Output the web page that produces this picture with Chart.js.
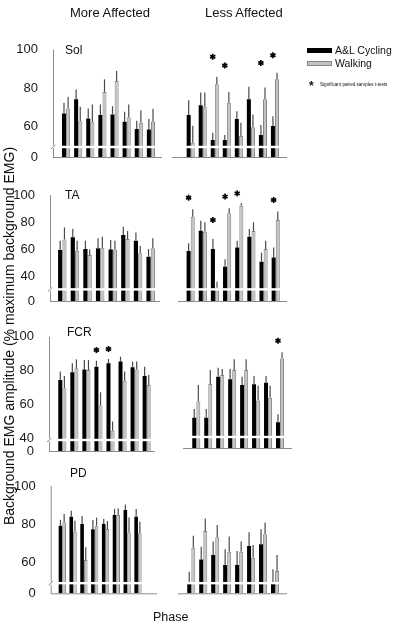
<!DOCTYPE html>
<html>
<head>
<meta charset="utf-8">
<script src="https://cdn.jsdelivr.net/npm/chart.js@4.4.1/dist/chart.umd.min.js"></script>
<style>
body { margin: 0; background: #fff; font-family: Arial, "Liberation Sans", sans-serif; }
#wrap { position: relative; width: 397px; height: 626px; overflow: hidden; }
#wrap canvas { position: absolute; left: 0; top: 0; }
.t { position: absolute; color: #111; white-space: nowrap; line-height: 1; }
</style>
</head>
<body>
<div id="wrap">
  <div class="t" style="left:70px; top:5.5px; font-size:13px">More Affected</div>
  <div class="t" style="left:205px; top:5.5px; font-size:13px">Less Affected</div>
  <div class="t" style="left:65px; top:44px; font-size:12px">Sol</div>
  <div class="t" style="left:65px; top:189px; font-size:12px">TA</div>
  <div class="t" style="left:67px; top:326px; font-size:12px">FCR</div>
  <div class="t" style="left:70px; top:467px; font-size:12px">PD</div>
  <div class="t" style="left:153px; top:611px; font-size:12.5px">Phase</div>
  <div class="t" style="left:-191.5px; top:329px; width:400px; text-align:center; font-size:14px; transform:rotate(-90deg)">Background EMG amplitude (% maximum background EMG)</div>

  <div style="position:absolute; left:307px; top:48px; width:25px; height:4.5px; background:#000"></div>
  <div class="t" style="left:335px; top:44.7px; font-size:10.5px">A&amp;L Cycling</div>
  <div style="position:absolute; left:307px; top:60.5px; width:23px; height:3px; background:#c2c2c2; border:1px solid #858585"></div>
  <div class="t" style="left:335px; top:57.5px; font-size:10.5px">Walking</div>
  <div class="t" style="left:309px; top:80px; font-size:12px; font-weight:bold">*</div>
  <div class="t" style="left:320px; top:82.7px; font-size:4.6px">Significant paired samples t-tests</div>
</div>

<script>
// phases (x categories, no tick labels shown)
const phases = ['1', '2', '3', '4', '5', '6', '7', '8'];

// Sol
const solMoreCyc = [66.8, 74.2, 64.2, 66.0, 66.3, 62.5, 58.7, 58.5];
const solMoreCycSd = [5.5, 5.1, 5.2, 5.5, 4.3, 5.2, 4.3, 5.4];
const solMoreWalk = [69.4, 62.8, 62.5, 78.0, 83.6, 64.8, 62.0, 62.5];
const solMoreWalkSd = [6.0, 7.5, 9.0, 6.5, 5.2, 6.7, 6.5, 6.7];
const solMoreStars = [null, null, null, null, null, null, null, null];

const solLessCyc = [66.0, 71.1, 53.0, 53.0, 63.9, 74.2, 55.6, 60.3];
const solLessCycSd = [7.7, 6.6, 3.8, 2.6, 4.1, 6.4, 5.2, 5.1];
const solLessWalk = [51.6, 70.3, 81.9, 72.3, 55.1, 59.6, 74.2, 84.6];
const solLessWalkSd = [8.8, 7.4, 3.9, 5.7, 6.9, 6.7, 6.1, 3.3];
const solLessStars = [null, null, 96.2, 91.7, null, null, 93.0, 97.0];

// TA
const taMoreCyc = [59.3, 68.7, 60.0, 60.5, 59.7, 70.4, 66.1, 54.3];
const taMoreCycSd = [6.8, 6.3, 6.1, 7.4, 7.0, 6.1, 6.2, 5.7];
const taMoreWalk = [67.0, 58.8, 55.6, 61.0, 59.7, 67.4, 56.8, 60.5];
const taMoreWalkSd = [9.0, 7.3, 4.1, 8.1, 6.4, 5.9, 5.4, 7.4];
const taMoreStars = [null, null, null, null, null, null, null, null];

const taLessCyc = [58.5, 73.6, 60.0, 46.9, 61.2, 69.1, 50.6, 53.8];
const taLessCycSd = [5.7, 7.4, 7.4, 5.5, 4.9, 5.7, 6.7, 7.4];
const taLessWalk = [83.9, 72.8, 31.5, 86.4, 92.1, 73.3, 60.0, 81.5];
const taLessWalkSd = [5.5, 7.0, 4.3, 3.7, 1.7, 6.5, 6.1, 6.2];
const taLessStars = [98.0, null, 81.5, 98.8, 101.2, null, null, 96.3];

// FCR
const fcrMoreCyc = [74.4, 79.0, 80.7, 82.3, 84.3, 85.3, 81.9, 76.8];
const fcrMoreCycSd = [5.0, 5.3, 5.5, 3.5, 2.5, 2.9, 3.4, 5.5];
const fcrMoreWalk = [69.5, 81.3, 80.3, 59.3, 44.5, 74.0, 80.7, 71.5];
const fcrMoreWalkSd = [7.3, 5.3, 5.9, 7.9, 5.4, 5.4, 4.6, 5.9];
const fcrMoreStars = [null, null, null, 92.1, 92.7, null, null, null];

const fcrLessCyc = [50.4, 50.4, 74.6, 73.1, 69.7, 70.1, 71.1, 47.7];
const fcrLessCycSd = [5.2, 5.2, 5.3, 6.1, 4.9, 4.9, 3.9, 4.7];
const fcrLessWalk = [59.9, 70.3, 75.6, 78.6, 78.6, 60.5, 62.2, 85.4];
const fcrLessWalkSd = [9.8, 8.3, 3.6, 6.3, 6.3, 8.8, 7.1, 3.6];
const fcrLessStars = [null, null, null, null, null, null, null, 95.9];

// PD
const pdMoreCyc = [79.3, 84.0, 80.2, 77.4, 80.2, 84.9, 87.5, 84.0];
const pdMoreCycSd = [3.0, 3.1, 4.1, 4.9, 2.6, 3.1, 2.9, 4.0];
const pdMoreWalk = [80.9, 76.2, 61.4, 79.3, 77.6, 84.9, 75.7, 75.3];
const pdMoreWalkSd = [4.5, 5.7, 6.6, 4.2, 4.1, 3.4, 7.8, 6.1];
const pdMoreStars = [null, null, null, null, null, null, null, null];

const pdLessCyc = [49.2, 61.7, 64.0, 58.8, 58.8, 68.7, 69.6, 49.2];
const pdLessCycSd = [6.1, 6.6, 7.0, 8.2, 7.3, 7.1, 7.8, 7.3];
const pdLessWalk = [67.8, 76.5, 73.2, 65.7, 65.7, 62.6, 74.8, 55.7];
const pdLessWalkSd = [6.3, 6.6, 6.5, 7.9, 5.3, 6.6, 6.2, 8.3];
const pdLessStars = [null, null, null, null, null, null, null, null];

// y ticks per muscle (bottom tick of each broken axis is labelled 0)
const solTicks = [60, 80, 100];
const taTicks = [40, 60, 80, 100];
const fcrTicks = [40, 60, 80, 100];
const pdTicks = [60, 80, 100];

const W = 397, H = 626;

function drawStar(ctx, x, y, r) {
    for (let k = 0; k < 3; k++) {
        const a = Math.PI / 2 + k * Math.PI / 3;
        ctx.beginPath();
        ctx.moveTo(x - r * Math.cos(a), y - r * Math.sin(a));
        ctx.lineTo(x + r * Math.cos(a), y + r * Math.sin(a));
        ctx.stroke();
    }
}

// error bars, axis break, axis lines and significance stars
const panelDeco = {
    id: 'panelDeco',
    afterDatasetsDraw(chart, args, o) {
        const ctx = chart.ctx;
        const y = chart.scales.y;
        ctx.save();

        ctx.strokeStyle = '#4a4a4a';
        ctx.lineWidth = 1.2;
        [o.cycSd, o.walkSd].forEach((sd, i) => {
            const vals = chart.data.datasets[i].data;
            chart.getDatasetMeta(i).data.forEach((bar, j) => {
                ctx.beginPath();
                ctx.moveTo(bar.x, bar.y);
                ctx.lineTo(bar.x, y.getPixelForValue(vals[j] + sd[j]));
                ctx.stroke();
            });
        });

        const by = y.getPixelForValue(o.brk);
        const bottom = y.getPixelForValue(y.min);
        ctx.fillStyle = '#fff';
        ctx.fillRect(o.axisL - 3, by - 1.2, o.axisR - o.axisL + 3, 2.4);

        ctx.strokeStyle = '#8c8c8c';
        ctx.lineWidth = 1;
        ctx.beginPath();
        ctx.moveTo(o.axisL, bottom + 0.5);
        ctx.lineTo(o.axisR, bottom + 0.5);
        ctx.stroke();
        if (o.yLine) {
            const top = y.getPixelForValue(100);
            ctx.beginPath();
            ctx.moveTo(o.axisL + 0.5, top);
            ctx.lineTo(o.axisL + 0.5, by - 1.5);
            ctx.moveTo(o.axisL + 0.5, by + 1.5);
            ctx.lineTo(o.axisL + 0.5, bottom);
            ctx.moveTo(o.axisL - 2, by + 2);
            ctx.lineTo(o.axisL + 2.5, by - 2);
            ctx.stroke();
        }

        ctx.strokeStyle = '#000';
        ctx.lineWidth = 1.7;
        const cycBars = chart.getDatasetMeta(0).data;
        o.stars.forEach((s, j) => {
            if (s !== null) drawStar(ctx, cycBars[j].x, y.getPixelForValue(s), 3);
        });
        ctx.restore();
    }
};

function makePanel(cyc, cycSd, walk, walkSd, stars, ticks, g) {
    const canvas = document.createElement('canvas');
    canvas.width = W;
    canvas.height = H;
    document.getElementById('wrap').prepend(canvas);

    new Chart(canvas.getContext('2d'), {
        type: 'bar',
        data: {
            labels: phases,
            datasets: [{
                label: 'A&L Cycling',
                data: cyc,
                backgroundColor: '#000',
                borderWidth: 0,
                categoryPercentage: 0.68,
                barPercentage: 0.98
            }, {
                label: 'Walking',
                data: walk,
                backgroundColor: '#c2c2c2',
                borderColor: '#858585',
                borderWidth: 1,
                categoryPercentage: 0.68,
                barPercentage: 0.98
            }]
        },
        options: {
            responsive: false,
            animation: false,
            devicePixelRatio: 1,
            layout: {
                padding: {
                    left: g.yLine ? 0 : g.left,
                    right: W - g.right,
                    top: g.top,
                    bottom: H - g.bottom
                }
            },
            plugins: {
                legend: { display: false },
                tooltip: { enabled: false },
                panelDeco: {
                    cycSd: cycSd, walkSd: walkSd, stars: stars, brk: g.brk,
                    axisL: g.axisL, axisR: g.axisR, yLine: g.yLine
                }
            },
            scales: {
                x: { display: false, offset: true },
                y: {
                    display: g.yLine,
                    min: g.min,
                    max: 100,
                    afterFit: s => { if (g.yLine) s.width = g.left; },
                    afterBuildTicks: s => { s.ticks = [g.min].concat(ticks).map(v => ({ value: v })); },
                    grid: { display: false },
                    border: { display: false },
                    ticks: {
                        padding: g.left - (g.axisL - 7),
                        color: '#1a1a1a',
                        font: { family: 'Arial, "Liberation Sans"', size: 13 },
                        callback: v => (v === g.min ? '0' : v)
                    }
                }
            }
        },
        plugins: [panelDeco]
    });
}

// Sol
makePanel(solMoreCyc, solMoreCycSd, solMoreWalk, solMoreWalkSd, solMoreStars, solTicks,
    { left: 60, right: 157, top: 49.5, bottom: 157, min: 44.2, brk: 49.4, axisL: 53, axisR: 162, yLine: true });
makePanel(solLessCyc, solLessCycSd, solLessWalk, solLessWalkSd, solLessStars, solTicks,
    { left: 184.7, right: 281, top: 49.5, bottom: 157, min: 44.2, brk: 49.4, axisL: 172, axisR: 287, yLine: false });

// TA
makePanel(taMoreCyc, taMoreCycSd, taMoreWalk, taMoreWalkSd, taMoreStars, taTicks,
    { left: 56, right: 157, top: 195, bottom: 301, min: 21.5, brk: 30.1, axisL: 50, axisR: 160, yLine: true });
makePanel(taLessCyc, taLessCycSd, taLessWalk, taLessWalkSd, taLessStars, taTicks,
    { left: 184.6, right: 281.8, top: 195, bottom: 301, min: 21.5, brk: 30.1, axisL: 178, axisR: 287, yLine: false });

// FCR
makePanel(fcrMoreCyc, fcrMoreCycSd, fcrMoreWalk, fcrMoreWalkSd, fcrMoreStars, fcrTicks,
    { left: 56.3, right: 152.7, top: 336.7, bottom: 451, min: 32.5, brk: 39, axisL: 49, axisR: 155, yLine: true });
makePanel(fcrLessCyc, fcrLessCycSd, fcrLessWalk, fcrLessWalkSd, fcrLessStars, fcrTicks,
    { left: 190.3, right: 286, top: 333.7, bottom: 448, min: 32.5, brk: 39, axisL: 183, axisR: 292, yLine: false });

// PD
makePanel(pdMoreCyc, pdMoreCycSd, pdMoreWalk, pdMoreWalkSd, pdMoreStars, pdTicks,
    { left: 56.9, right: 143.4, top: 486, bottom: 593.3, min: 44.0, brk: 49.3, axisL: 50.7, axisR: 157, yLine: true });
makePanel(pdLessCyc, pdLessCycSd, pdLessWalk, pdLessWalkSd, pdLessStars, pdTicks,
    { left: 185.3, right: 281, top: 486, bottom: 593.3, min: 44.0, brk: 49.3, axisL: 178, axisR: 287, yLine: false });
</script>
</body>
</html>
